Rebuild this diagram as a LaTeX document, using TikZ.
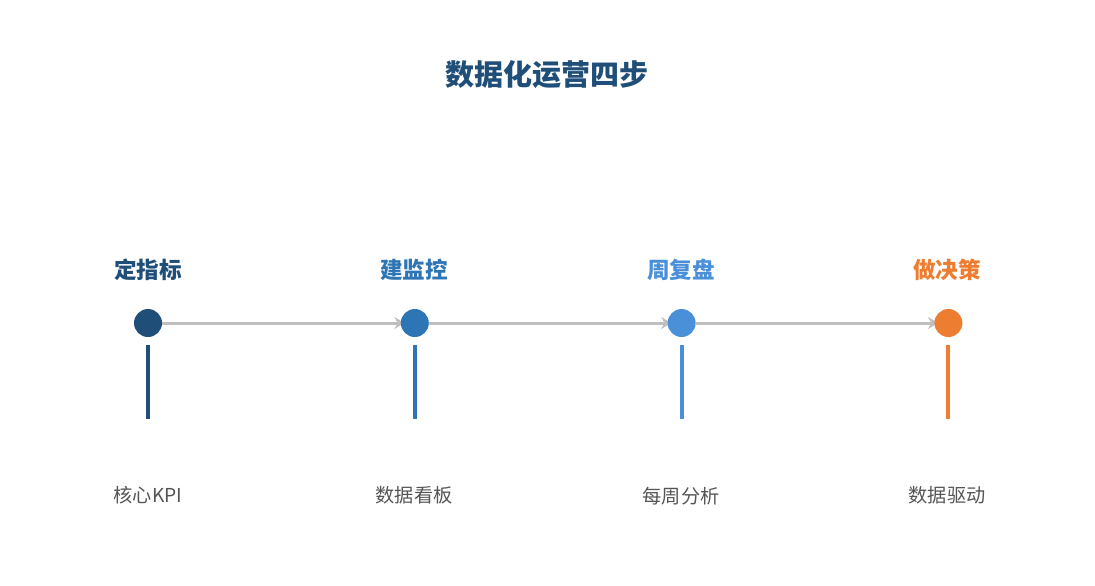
\documentclass[tikz,border=0pt]{standalone}
\usepackage{fontspec}
\newfontfamily\cjk{Noto Sans CJK SC}
\usetikzlibrary{arrows.meta, positioning, calc}
\pgfdeclarelayer{background}
\pgfsetlayers{background,main}
\definecolor{navy}{HTML}{1F4E79}
\definecolor{midblue}{HTML}{2E75B6}
\definecolor{lightblue}{HTML}{4A90D9}
\definecolor{orange}{HTML}{ED7D31}
\definecolor{linegray}{HTML}{BFBFBF}
\definecolor{textgray}{HTML}{555555}
\tikzset{
    dot/.style={circle, fill=#1, minimum size=14pt, inner sep=0pt},
    bar/.style={rectangle, fill=#1, minimum width=2pt, minimum height=37pt, inner sep=0pt},
    stepname/.style={font=\cjk\bfseries\fontsize{11.3pt}{13pt}\selectfont, text=#1, inner sep=0pt},
    stepnote/.style={font=\cjk\fontsize{9.6pt}{12pt}\selectfont, text=textgray, inner sep=0pt},
    flow/.style={draw=linegray, line width=1.5pt, shorten >=-2pt, -{Stealth[length=5pt, width=6pt]}},
}
\begin{document}
\begin{tikzpicture}[x=0.5pt, y=-0.5pt]
    \useasboundingbox (0,0) rectangle (1095,585);
    \tikzset{node distance=119pt}

    \node[font=\cjk\bfseries\fontsize{14.5pt}{17pt}\selectfont, text=navy] (title) at (547,75) {数据化运营四步};

    % the four steps
    \node[dot=navy] (u0) at (148,323) {};
    \node[dot=midblue, right=of u0] (u1) {};
    \node[dot=lightblue, right=of u1] (u2) {};
    \node[dot=orange, right=of u2] (u3) {};

    \begin{pgfonlayer}{background}
    \draw[flow] (u0) -- (u1.west);
    \draw[flow] (u1) -- (u2.west);
    \draw[flow] (u2) -- (u3.west);
    \end{pgfonlayer}

    \node[stepname=navy] (n0) at (148,270) {定指标};
    \node[stepname=midblue] (n1) at (414,270) {建监控};
    \node[stepname=lightblue] (n2) at (681,270) {周复盘};
    \node[stepname=orange] (n3) at (947,270) {做决策};

    \node[bar=navy, below=3.5pt of u0] (b0) {};
    \node[bar=midblue, below=3.5pt of u1] (b1) {};
    \node[bar=lightblue, below=3.5pt of u2] (b2) {};
    \node[bar=orange, below=3.5pt of u3] (b3) {};

    \node[stepnote] (k0) at (148,495) {核心KPI};
    \node[stepnote] (k1) at (414,495) {数据看板};
    \node[stepnote] (k2) at (681,496) {每周分析};
    \node[stepnote] (k3) at (947,495) {数据驱动};
\end{tikzpicture}
\end{document}
